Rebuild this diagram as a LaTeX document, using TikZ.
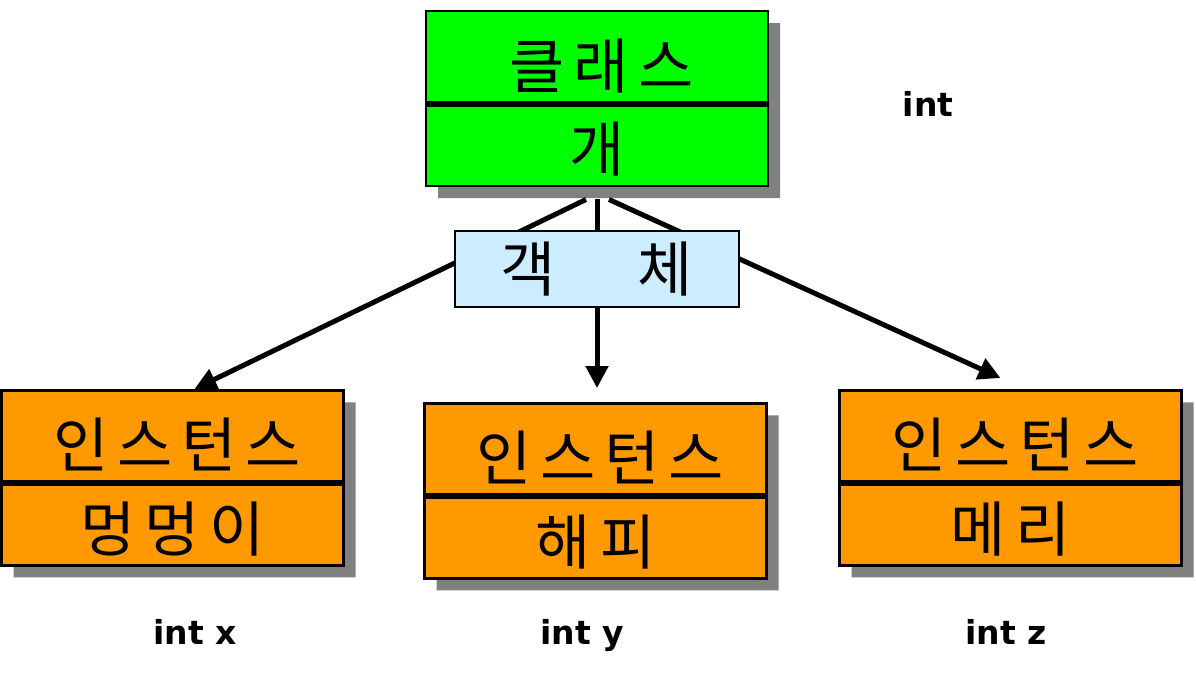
\documentclass[tikz,border=0pt]{standalone}
\usepackage{fontspec}
\usetikzlibrary{positioning,shapes.multipart,shadows,arrows.meta}
\setmainfont{DejaVu Sans}
\newfontfamily\kr{Noto Sans CJK KR}
\newfontfamily\krwide[LetterSpace=15]{Noto Sans CJK KR}
\definecolor{clsgreen}{RGB}{0,255,0}
\definecolor{instorange}{RGB}{255,153,0}
\definecolor{objblue}{RGB}{204,236,255}
\newcommand\partA{\kern9pt\rule[-14pt]{0pt}{90pt}}
\newcommand\partB{\rule[-13pt]{0pt}{80pt}}

\begin{document}
\begin{tikzpicture}[x=1pt, y=-1pt,
    box/.style = {rectangle split, rectangle split parts=2, draw, line width=2.5pt,
        minimum width=342pt, inner xsep=0pt, inner ysep=0pt,
        font=\krwide\fontsize{60}{62}\selectfont,
        drop shadow={shadow xshift=12pt, shadow yshift=-12pt, fill=gray, opacity=1}},
    objbox/.style = {draw, line width=2pt, fill=objblue, minimum width=284pt,
        minimum height=75pt, inner sep=0pt, font=\kr\fontsize{60}{62}\selectfont},
    divider/.style = {line width=6pt},
    link/.style = {line width=5pt, -{Triangle[length=22pt, width=22pt]}},
    lbl/.style = {anchor=base, font=\bfseries\fontsize{33}{36}\selectfont}
    ]
    \useasboundingbox (0,0) rectangle (1196,676);

    \node[box, fill=clsgreen, anchor=north] (cls) at (597,10)
        {\partA 클래스\nodepart{two}\partB 개};
    \node[box, fill=instorange, anchor=north] (inst1) at (172.5,389)
        {\partA 인스턴스\nodepart{two}\partB 멍멍이};
    \node[box, fill=instorange, anchor=north] (inst2) at (595.5,402)
        {\partA 인스턴스\nodepart{two}\partB 해피};
    \node[box, fill=instorange, anchor=north] (inst3) at (1010.5,389)
        {\partA 인스턴스\nodepart{two}\partB 메리};
    \foreach \b in {cls,inst1,inst2,inst3}
        \draw[divider] (\b.text split west) -- (\b.text split east);

    % links from the class down to its instances
    \draw[link] ([xshift=-11pt,yshift=-12pt]cls.south) -- ([xshift=22pt]inst1.north);
    \draw[link] ([yshift=-12pt]cls.south) -- ([yshift=14pt]cls.south |- inst2.north);
    \draw[link] ([xshift=12pt,yshift=-12pt]cls.south) -- ([xshift=-10pt,yshift=11pt]inst3.north);

    \node[objbox, below=43pt of cls] (obj) {객\hspace{82pt}체};

    \node[lbl] (ltop) at (928,117) {int};
    \node[lbl] (lx) at (195,644) {int x};
    \node[lbl] (ly) at (582,644) {int y};
    \node[lbl] (lz) at (1006,644) {int z};
\end{tikzpicture}
\end{document}
